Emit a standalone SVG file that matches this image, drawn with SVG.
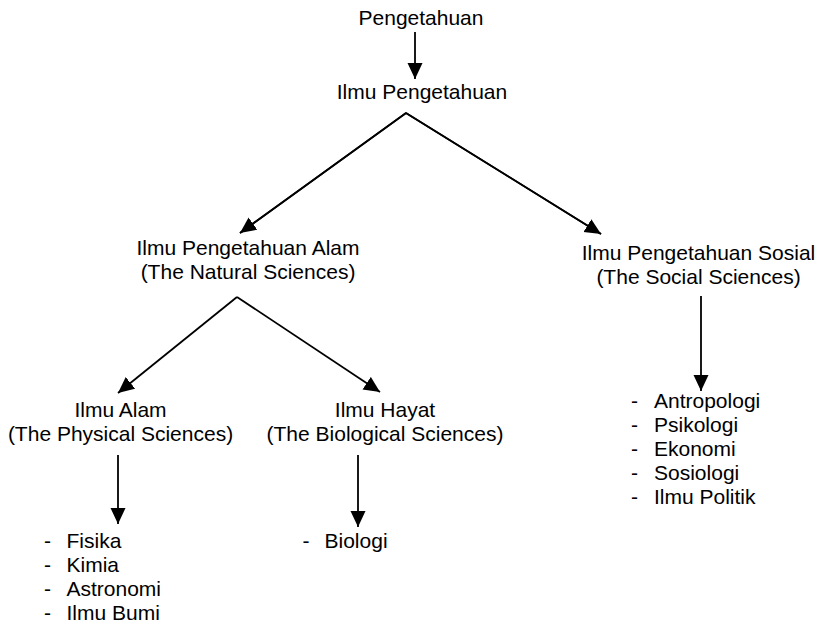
<svg xmlns="http://www.w3.org/2000/svg" width="819" height="623" viewBox="0 0 819 623">
<defs>
<style>
text{font-family:"Liberation Sans",Arial,sans-serif;font-size:21px;fill:#000}
.c{text-anchor:middle}
.ln{stroke:#000;stroke-width:1.8;fill:none}
</style>
<marker id="ah" markerUnits="userSpaceOnUse" markerWidth="16" markerHeight="16" refX="16" refY="8" orient="auto" viewBox="0 0 16 16">
<path d="M0,0.5 L16,8 L0,15.5 z" fill="#000"/>
</marker>
</defs>
<rect width="819" height="623" fill="#fff"/>
<g id="connectors">
<line class="ln" x1="415" y1="32" x2="415" y2="79" marker-end="url(#ah)"/>
<polyline class="ln" points="240,233 406,113 601,234"/>
<line class="ln" x1="406" y1="113" x2="240" y2="233" marker-end="url(#ah)"/>
<line class="ln" x1="406" y1="113" x2="601" y2="234" marker-end="url(#ah)"/>
<line class="ln" x1="237" y1="297" x2="118" y2="393" marker-end="url(#ah)"/>
<line class="ln" x1="237" y1="297" x2="380" y2="392" marker-end="url(#ah)"/>
<line class="ln" x1="118" y1="455" x2="118" y2="524" marker-end="url(#ah)"/>
<line class="ln" x1="358" y1="455" x2="358" y2="527" marker-end="url(#ah)"/>
<line class="ln" x1="701" y1="296" x2="701" y2="391" marker-end="url(#ah)"/>
</g>
<g id="pengetahuan"><text class="c" x="421" y="25">Pengetahuan</text></g>
<g id="ilmu-pengetahuan"><text class="c" x="422" y="99">Ilmu Pengetahuan</text></g>
<g id="ipa"><text class="c" x="248" y="255">Ilmu Pengetahuan Alam</text><text class="c" x="248" y="279">(The Natural Sciences)</text></g>
<g id="ips"><text class="c" x="698.5" y="260">Ilmu Pengetahuan Sosial</text><text class="c" x="698.5" y="284">(The Social Sciences)</text></g>
<g id="ilmu-alam"><text class="c" x="120.5" y="417">Ilmu Alam</text><text class="c" x="120.5" y="441">(The Physical Sciences)</text></g>
<g id="ilmu-hayat"><text class="c" x="385" y="417">Ilmu Hayat</text><text class="c" x="385" y="441">(The Biological Sciences)</text></g>
<g id="list-alam">
<text x="44" y="548">-</text><text x="66.5" y="548">Fisika</text>
<text x="44" y="572">-</text><text x="66.5" y="572">Kimia</text>
<text x="44" y="596">-</text><text x="66.5" y="596">Astronomi</text>
<text x="44" y="620">-</text><text x="66.5" y="620">Ilmu Bumi</text>
</g>
<g id="list-hayat">
<text x="302.5" y="548">-</text><text x="324.5" y="548">Biologi</text>
</g>
<g id="list-sosial">
<text x="631" y="408">-</text><text x="654" y="408">Antropologi</text>
<text x="631" y="432">-</text><text x="654" y="432">Psikologi</text>
<text x="631" y="456">-</text><text x="654" y="456">Ekonomi</text>
<text x="631" y="480">-</text><text x="654" y="480">Sosiologi</text>
<text x="631" y="504">-</text><text x="654" y="504">Ilmu Politik</text>
</g>
</svg>
